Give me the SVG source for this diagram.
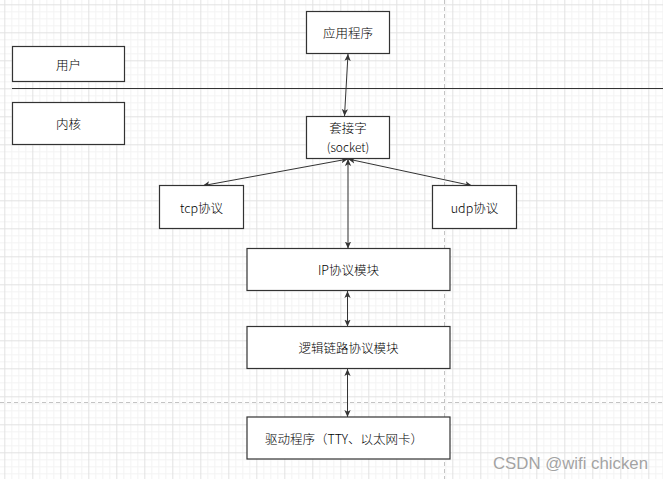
<svg xmlns="http://www.w3.org/2000/svg" width="663" height="479" viewBox="0 0 663 479">
<style>
.box{fill:#ffffff;stroke:#333333;stroke-width:1.2}
.lbl{font-family:"Noto Sans CJK SC",sans-serif;font-size:12.5px;font-weight:300;fill:#000000;text-anchor:middle;dominant-baseline:central}
.conn{stroke:#333333;stroke-width:1;fill:none;marker-start:url(#ah);marker-end:url(#ah)}
.dash{stroke:#c4c4c4;stroke-width:1;stroke-dasharray:4 3;fill:none}
</style>
<defs>
<pattern id="grid" patternUnits="userSpaceOnUse" x="4.3" y="4.3" width="28" height="28">
<path d="M7.5 0V28M14.5 0V28M21.5 0V28M0 7.5H28M0 14.5H28M0 21.5H28" stroke="#f3f3f3" stroke-width="1" fill="none"/>
<path d="M0.5 0V28M0 0.5H28" stroke="#e2e2e2" stroke-width="1" fill="none"/>
</pattern>
<marker id="ah" viewBox="0 0 10 10" refX="10" refY="5" markerWidth="7" markerHeight="7" markerUnits="userSpaceOnUse" orient="auto-start-reverse">
<path d="M0 0.5L10 5L0 9.5L2.5 5Z" fill="#333333"/>
</marker>
</defs>
<rect width="663" height="479" fill="#ffffff"/>
<rect width="663" height="479" fill="url(#grid)"/>
<path class="dash" d="M444.5 0V479"/>
<path class="dash" d="M0 402.5H663"/>
<path d="M12 88.5H663" stroke="#333333" stroke-width="1.2"/>
<g id="connectors">
<path class="conn" d="M348 54L344.5 116"/>
<path class="conn" d="M348 159L202.7 185.7"/>
<path class="conn" d="M348 159L472 185.7"/>
<path class="conn" d="M348 159L348 248.5"/>
<path class="conn" d="M347.5 291L347.5 326.5"/>
<path class="conn" d="M347.5 369L347.5 417"/>
</g>
<g id="app"><rect class="box" x="306.5" y="11.5" width="83" height="42"/><text class="lbl" x="348" y="32.5">应用程序</text></g>
<g id="user"><rect class="box" x="12.5" y="46.5" width="112" height="35"/><text class="lbl" x="68.5" y="64">用户</text></g>
<g id="kernel"><rect class="box" x="12.5" y="102.5" width="112" height="42"/><text class="lbl" x="68.5" y="123.5">内核</text></g>
<g id="socket"><rect class="box" x="306.5" y="116.5" width="83" height="42"/><text class="lbl" x="348" y="127.5" font-size="12px">套接字</text><text class="lbl" x="348" y="146.5" font-size="12px" style="font-size:12px">(socket)</text></g>
<g id="tcp"><rect class="box" x="159.5" y="185.5" width="84" height="43"/><text class="lbl" x="201.5" y="207">tcp协议</text></g>
<g id="udp"><rect class="box" x="432.5" y="185.5" width="84" height="43"/><text class="lbl" x="474.5" y="207">udp协议</text></g>
<g id="ip"><rect class="box" x="247" y="248.5" width="203" height="42"/><text class="lbl" x="348.5" y="269.5">IP协议模块</text></g>
<g id="logic"><rect class="box" x="247" y="326.5" width="203" height="42"/><text class="lbl" x="348.5" y="347.5">逻辑链路协议模块</text></g>
<g id="driver"><rect class="box" x="247" y="417" width="203" height="42"/><text class="lbl" x="344" y="438">驱动程序（TTY、以太网卡）</text></g>
<text x="493" y="469" textLength="155" lengthAdjust="spacingAndGlyphs" font-family="'Liberation Sans',sans-serif" font-size="16.5" fill="#a3a3a3" stroke="#ffffff" stroke-width="0.5" paint-order="stroke">CSDN @wifi chicken</text>
</svg>
